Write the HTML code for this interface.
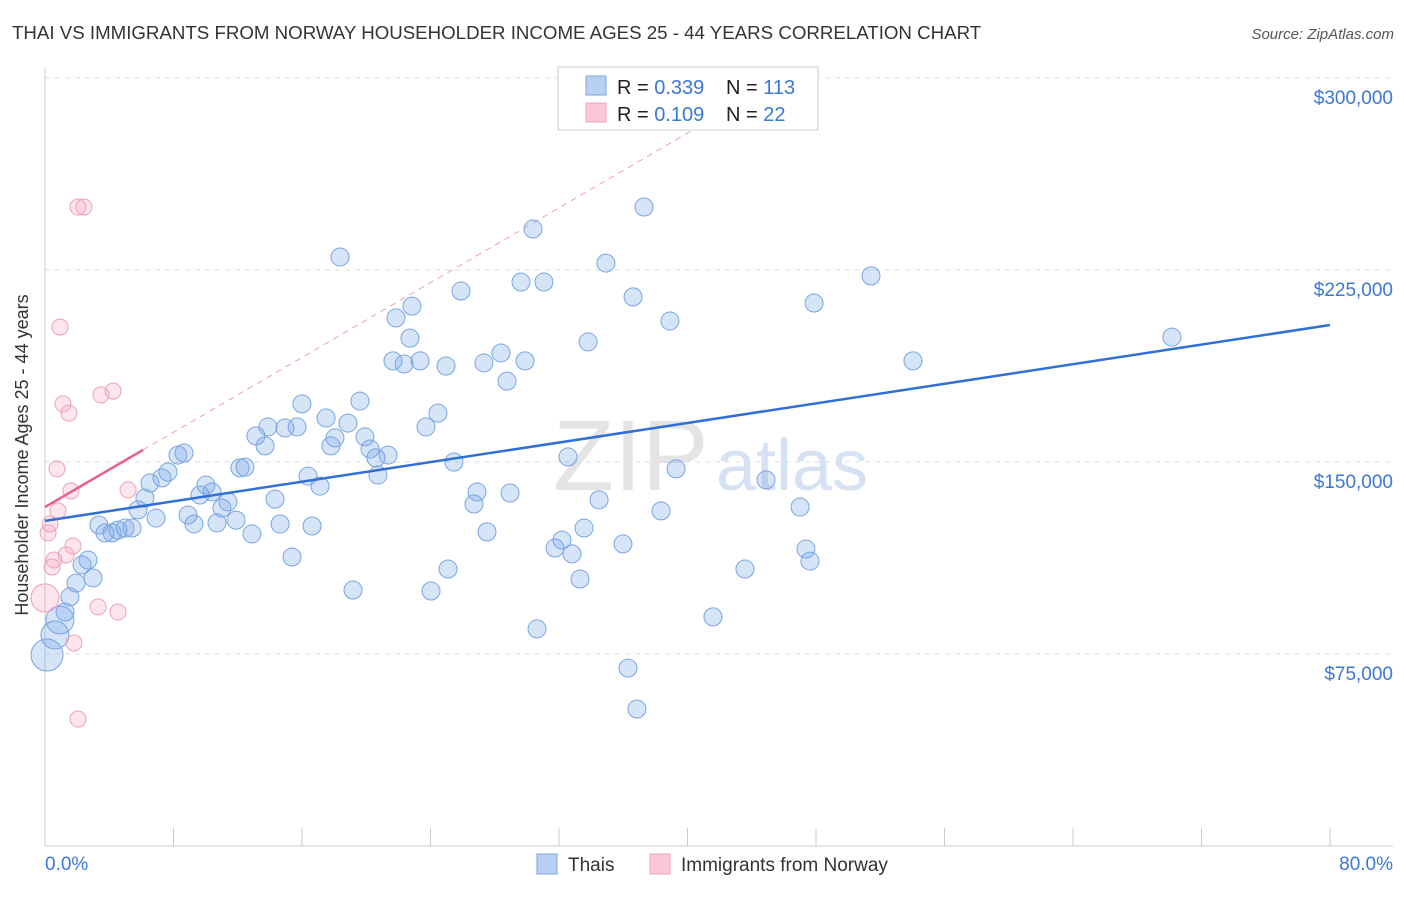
<!DOCTYPE html>
<html><head><meta charset="utf-8"><style>
body{margin:0;background:#fff;font-family:"Liberation Sans",sans-serif;}
svg text{font-family:"Liberation Sans",sans-serif;}
</style></head><body>
<svg id="chart" width="1406" height="892" xmlns="http://www.w3.org/2000/svg">
<text x="12" y="39" font-size="18.7" fill="#333">THAI VS IMMIGRANTS FROM NORWAY HOUSEHOLDER INCOME AGES 25 - 44 YEARS CORRELATION CHART</text>
<text x="1394" y="39" font-size="15" fill="#555" font-style="italic" text-anchor="end">Source: ZipAtlas.com</text>
<text x="28" y="455" font-size="18" fill="#333" text-anchor="middle" transform="rotate(-90 28 455)">Householder Income Ages 25 - 44 years</text>
<text x="553" y="490" font-size="100" fill="#e4e4e4" font-family="Liberation Serif">ZIP</text>
<text x="716" y="490" font-size="72" fill="#d6e2f3">atlas</text>
<g id="grid"></g><g id="axes"></g><g id="marks"></g>
<g>
<rect x="558" y="67" width="260" height="63" fill="#fff" stroke="#ccc"/>
<rect x="586" y="76" width="20" height="19" fill="#b8d0f4" stroke="#7ea6e0"/>
<rect x="586" y="103" width="20" height="19" fill="#f8c8d6" stroke="#eea0b8"/>
<text x="617" y="94" font-size="20" fill="#222">R = <tspan fill="#3a78d4">0.339</tspan></text>
<text x="726" y="94" font-size="20" fill="#222">N = <tspan fill="#3a78d4">113</tspan></text>
<text x="617" y="121" font-size="20" fill="#222">R = <tspan fill="#3a78d4">0.109</tspan></text>
<text x="726" y="121" font-size="20" fill="#222">N = <tspan fill="#3a78d4"> 22</tspan></text>
</g>
<g>
<rect x="537" y="854" width="20" height="20" fill="#b8d0f4" stroke="#7ea6e0"/>
<text x="568" y="871" font-size="19" fill="#333">Thais</text>
<rect x="650" y="854" width="20" height="20" fill="#f8c8d6" stroke="#eea0b8"/>
<text x="681" y="871" font-size="19" fill="#333">Immigrants from Norway</text>
</g>
</svg>
<script>
const yTicks=[75,150,225,300];
const yTickLabels=["$75,000","$150,000","$225,000","$300,000"];
const xEndLabels=["0.0%","80.0%"];
const thaiX=[0.12,0.59,0.89,1.19,1.48,1.84,2.20,2.55,2.85,3.20,3.56,3.98,4.33,4.75,5.16,5.52,5.93,6.23,6.59,6.94,7.30,7.89,8.25,8.49,8.84,9.20,9.55,9.91,10.21,10.50,10.86,11.34,11.57,11.87,12.28,12.52,13.06,13.23,13.65,13.95,14.24,14.66,14.96,15.25,15.61,15.85,16.32,16.68,16.97,17.21,17.51,17.98,18.28,18.69,18.99,19.29,19.64,19.76,20.36,20.65,20.83,21.31,21.66,21.78,22.26,22.61,22.91,23.32,23.80,23.92,24.27,24.69,25.46,25.64,26.05,26.23,27.06,27.42,27.60,28.25,28.49,28.96,29.20,29.61,30.27,30.68,31.04,31.28,31.75,31.99,32.23,32.88,33.29,34.30,34.60,34.90,35.13,35.55,36.56,37.09,37.45,39.64,41.54,42.79,44.81,45.16,45.40,45.64,49.02,51.51,66.88];
const thaiY=[74.6,82.4,88.3,91.4,97.3,102.7,109.8,111.7,104.7,125.4,122.3,122.3,123.4,124.2,124.2,131.3,135.9,141.8,128.1,143.8,146.1,152.7,153.5,129.3,125.8,137.1,141.0,138.3,126.2,132.0,134.4,127.3,147.7,148.0,121.9,160.2,156.3,163.7,135.5,125.8,163.3,112.9,163.7,172.7,144.5,125.0,140.6,167.2,156.3,159.4,230.1,165.2,100.0,173.8,159.8,155.1,151.6,144.9,152.7,189.5,206.3,188.3,198.4,210.9,189.5,163.7,99.6,169.1,187.5,108.2,150.0,216.8,133.6,138.3,188.7,122.7,192.6,181.6,137.9,220.3,189.5,241.0,84.8,220.3,116.4,119.5,152.0,114.1,104.3,124.2,196.9,135.2,227.7,118.0,69.5,214.5,53.5,249.6,130.9,205.1,147.3,89.5,108.2,143.0,132.4,116.0,111.3,212.1,222.7,189.5,198.8];
const norX=[1.96,2.31,0.89,1.07,1.42,3.32,4.04,0.71,1.54,4.93,0.77,0.30,0.18,1.66,1.25,0.53,0.42,0.0,3.15,4.33,1.72,1.96];
const norY=[249.6,249.6,202.7,172.7,169.1,176.2,177.7,147.3,138.7,139.1,130.9,125.8,122.3,117.2,113.7,111.7,109.0,96.9,93.4,91.4,79.3,49.6];
const thaiTrend=[[0,127],[76.26,203.5]];
const norTrend=[[0,132.4],[5.82,154.7]];

const X=p=>45+p*16.85, Y=v=>846-v*2.56;
const NS="http://www.w3.org/2000/svg";
function mk(tag,attrs,parent){const e=document.createElementNS(NS,tag);for(const k in attrs)e.setAttribute(k,attrs[k]);document.getElementById(parent).appendChild(e);return e;}
yTicks.forEach((t,i)=>{
 const g=mk('line',{x1:45,x2:1393,y1:Y(t),y2:Y(t),stroke:'#ddd','stroke-dasharray':'5,5'},'grid');
 
 
 const l=mk('text',{x:1393,y:Y(t)+26,'font-size':19,fill:'#3a78d4','text-anchor':'end'},'axes');
 l.textContent=yTickLabels[i];
 
 
});
const topg=mk('line',{x1:45,x2:1393,y1:78,y2:78,stroke:'#ddd','stroke-dasharray':'5,5'},'grid');


const ya=mk('line',{x1:45,x2:45,y1:68,y2:846,stroke:'#ccc'},'axes');


const xa=mk('line',{x1:45,x2:1393,y1:846,y2:846,stroke:'#ccc'},'axes');


for(let i=0;i<=10;i++){const t=mk('line',{x1:45+i*128.5,x2:45+i*128.5,y1:828,y2:846,stroke:'#ccc'},'axes');
 
 }
const x0=mk('text',{x:45,y:870,'font-size':19,fill:'#3a78d4'},'axes');x0.textContent=xEndLabels[0];


const x1=mk('text',{x:1393,y:870,'font-size':19,fill:'#3a78d4','text-anchor':'end'},'axes');x1.textContent=xEndLabels[1];


const sl=(norTrend[1][1]-norTrend[0][1])/(norTrend[1][0]-norTrend[0][0]);
const xe=norTrend[0][0]+(300-norTrend[0][1])/sl;
const de=mk('line',{x1:X(norTrend[1][0]),y1:Y(norTrend[1][1]),x2:X(xe),y2:Y(300),stroke:'#eea0b8','stroke-dasharray':'6,5','stroke-width':1},'marks');


thaiX.forEach((x,i)=>{const r=(x<1)?(i==0?16:14):9;
 const c=mk('circle',{cx:X(x),cy:Y(thaiY[i]),r:r,fill:'rgba(120,165,232,0.3)',stroke:'#7aa5e0','stroke-width':1},'marks');
 
 });
norX.forEach((x,i)=>{const r=(x===0)?14:8;
 const c=mk('circle',{cx:X(x),cy:Y(norY[i]),r:r,fill:'rgba(245,160,190,0.28)',stroke:'#eea0b8','stroke-width':1},'marks');
 
 });
const tl=mk('line',{x1:X(thaiTrend[0][0]),y1:Y(thaiTrend[0][1]),x2:X(thaiTrend[1][0]),y2:Y(thaiTrend[1][1]),stroke:'#2f6fd6','stroke-width':2.5},'marks');


const nl=mk('line',{x1:X(norTrend[0][0]),y1:Y(norTrend[0][1]),x2:X(norTrend[1][0]),y2:Y(norTrend[1][1]),stroke:'#e8608a','stroke-width':2.5},'marks');


</script>
</body></html>
